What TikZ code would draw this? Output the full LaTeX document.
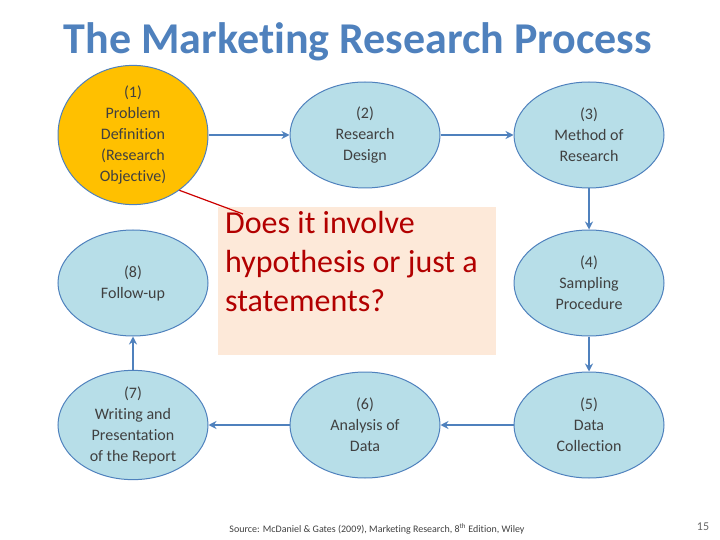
\documentclass[tikz,border=0pt]{standalone}
\usepackage{fontspec}
\setmainfont{Carlito}[Ligatures={NoCommon}]
\usetikzlibrary{shapes.geometric,arrows.meta}
\definecolor{ttl}{HTML}{4F81BD}
\definecolor{ell}{HTML}{B7DEE8}
\definecolor{edg}{HTML}{4F81BD}
\begin{document}
\begin{tikzpicture}[x=1pt,y=-1pt,
  stage/.style={ellipse,draw=edg,line width=1pt,fill=ell,minimum width=150pt,minimum height=106pt,inner sep=0pt,align=center,font=\fontsize{16}{21}\selectfont,text=black!75},
  flow/.style={draw=edg,line width=1.5pt,-{Stealth[length=8pt,width=8pt]}}]
\useasboundingbox (0,0) rectangle (720,540);
\node[text=ttl,font=\fontsize{44}{46}\selectfont\bfseries] (title) at (358,42) {The Marketing Research Process};
\node[stage,fill={rgb,255:red,255;green,192;blue,0}] (s1) at (133,135) {(1)\\Problem\\Definition\\(Research\\Objective)};
\node[stage] (s2) at (365,135) {(2)\\Research\\Design};
\node[stage] (s3) at (589,135) {(3)\\Method of\\Research};
\node[stage] (s8) at (133,283) {(8)\\Follow-up};
\node[stage] (s4) at (589,283) {(4)\\Sampling\\Procedure};
\node[stage] (s7) at (133,425) {(7)\\Writing and\\Presentation\\of the Report};
\node[stage] (s6) at (365,425) {(6)\\Analysis of\\Data};
\node[stage] (s5) at (589,425) {(5)\\Data\\Collection};
\draw[flow] (s1) -- (s2);
\draw[flow] (s2) -- (s3);
\draw[flow] (s3) -- (s4);
\draw[flow] (s4) -- (s5);
\draw[flow] (s5) -- (s6);
\draw[flow] (s6) -- (s7);
\draw[flow] (s7) -- (s8);
\node[fill={rgb,255:red,253;green,233;blue,217},minimum width=278pt,minimum height=148pt,anchor=north west,inner sep=0pt] (box) at (218,207) {};
\node[anchor=north west,align=left,font=\fontsize{32}{39}\selectfont,text=red!70!black,inner sep=0pt] (q) at (225,211) {Does it involve\\hypothesis or just a\\statements?};
\coordinate (c) at (243,214);
\draw[red!80!black,line width=1.2pt] (s1.-50) -- (c);
\node[font=\fontsize{10}{12}\selectfont,text=black!75] (src) at (377,529) {Source: McDaniel \& Gates (2009), Marketing Research, 8\textsuperscript{th} Edition, Wiley};
\node[font=\fontsize{12}{12}\selectfont,text=black!60] (pg) at (703,527) {15};
\end{tikzpicture}
\end{document}
